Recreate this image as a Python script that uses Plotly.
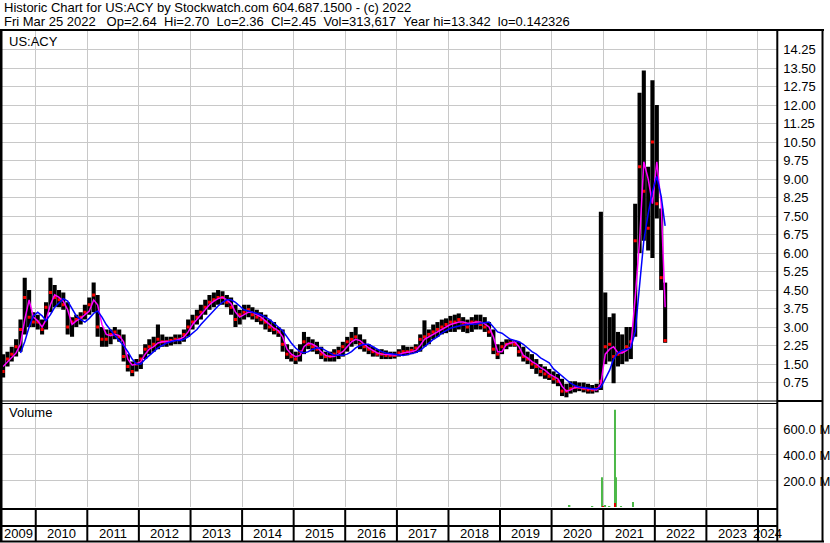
import plotly.graph_objects as go
from plotly.subplots import make_subplots
import pandas as pd

W, H = 830, 543
FONT = "Liberation Sans, Arial, sans-serif"
GRID = "#C8C8C8"

# Header text
title_line = "Historic Chart for US:ACY by Stockwatch.com 604.687.1500 - (c) 2022"
quote_items = ["Fri Mar 25 2022 ", "Op=2.64", "Hi=2.70", "Lo=2.36", "Cl=2.45",
               "Vol=313,617", "Year hi=13.342", "lo=0.142326"]

# Monthly bars May 2009 .. Mar 2022
hi = [
    1.9, 2.0, 2.2, 2.5, 3.3, 5.0, 4.5, 3.6,                          # 2009
    3.5, 3.3, 4.0, 5.0, 4.7, 4.5, 4.4, 4.0, 3.4, 3.5, 3.6, 3.9,      # 2010
    4.2, 4.8, 4.3, 3.0, 2.9, 2.9, 3.0, 2.9, 2.7, 1.9, 1.6, 1.7,      # 2011
    1.9, 2.3, 2.5, 2.6, 3.1, 2.7, 2.6, 2.6, 2.7, 2.7, 2.9, 3.3,      # 2012
    3.5, 3.7, 3.9, 4.1, 4.3, 4.4, 4.5, 4.45, 4.3, 4.2, 3.9, 3.7,     # 2013
    3.9, 3.9, 3.8, 3.7, 3.6, 3.5, 3.3, 3.2, 3.0, 2.9, 2.3, 2.1,      # 2014
    2.0, 2.3, 2.8, 2.6, 2.5, 2.4, 2.2, 2.0, 2.0, 2.1, 2.2, 2.4,      # 2015
    2.6, 2.8, 3.0, 2.7, 2.5, 2.3, 2.2, 2.1, 2.1, 2.05, 2.0, 2.0,     # 2016
    2.1, 2.26, 2.2, 2.2, 2.3, 2.7, 3.27, 2.9, 3.1, 3.2, 3.3, 3.35,   # 2017
    3.45, 3.5, 3.55, 3.4, 3.3, 3.4, 3.5, 3.5, 3.4, 3.2, 2.9, 2.3,    # 2018
    2.4, 2.5, 2.5, 2.45, 2.4, 2.2, 2.0, 1.9, 1.7, 1.5, 1.4, 1.3,     # 2019
    1.2, 1.1, 0.9, 0.7, 0.8, 0.8, 0.75, 0.75, 0.7, 0.65, 0.7, 7.67,  # 2020
    4.4, 3.4, 3.55, 2.8, 2.7, 3.0, 3.0, 8.0, 12.5, 13.4, 9.5, 13.0,  # 2021
    12.0, 7.8, 4.8,                                                  # 2022
]
lo = [
    0.95, 1.4, 1.6, 1.8, 2.0, 2.7, 3.0, 3.0,
    2.9, 2.7, 2.9, 3.6, 3.8, 3.8, 3.7, 2.7, 2.6, 3.0, 3.1, 3.3,
    3.5, 3.6, 2.6, 2.2, 2.2, 2.3, 2.5, 2.4, 1.6, 1.2, 1.0, 1.2,
    1.3, 1.7, 1.9, 2.0, 2.1, 2.2, 2.2, 2.25, 2.3, 2.3, 2.4, 2.6,
    2.9, 3.1, 3.3, 3.5, 3.7, 3.8, 3.9, 3.9, 3.8, 3.5, 3.0, 3.1,
    3.3, 3.4, 3.3, 3.2, 3.1, 2.9, 2.8, 2.7, 2.6, 2.0, 1.7, 1.6,
    1.5, 1.6, 1.9, 2.1, 2.0, 1.9, 1.7, 1.6, 1.6, 1.6, 1.7, 1.8,
    2.0, 2.2, 2.3, 2.1, 2.0, 1.9, 1.8, 1.8, 1.7, 1.7, 1.7, 1.72,
    1.8, 1.85, 1.85, 1.9, 1.95, 2.0, 2.2, 2.3, 2.5, 2.6, 2.7, 2.75,
    2.8, 2.8, 2.9, 2.8, 2.75, 2.8, 2.9, 2.9, 2.8, 2.6, 1.9, 1.7,
    1.9, 2.1, 2.2, 2.2, 1.8, 1.6, 1.5, 1.3, 1.1, 1.0, 0.9, 0.85,
    0.7, 0.6, 0.2, 0.15, 0.3, 0.35, 0.4, 0.35, 0.3, 0.3, 0.35, 0.45,
    1.5, 1.6, 0.72, 1.4, 1.5, 1.6, 1.7, 2.6, 6.0, 6.5, 6.1, 5.8,
    7.4, 4.5, 2.36,
]
close = [
    1.2, 1.7, 1.9, 2.2, 2.9, 4.2, 3.4, 3.2,
    3.2, 2.9, 3.8, 4.4, 4.2, 4.1, 3.9, 3.0, 3.2, 3.3, 3.4, 3.6,
    3.9, 4.3, 3.0, 2.5, 2.5, 2.7, 2.8, 2.6, 1.8, 1.4, 1.2, 1.5,
    1.7, 2.1, 2.2, 2.3, 2.5, 2.4, 2.4, 2.45, 2.5, 2.5, 2.7, 3.0,
    3.2, 3.4, 3.6, 3.8, 4.0, 4.1, 4.2, 4.2, 4.0, 3.8, 3.3, 3.5,
    3.6, 3.7, 3.5, 3.4, 3.3, 3.2, 3.0, 2.9, 2.8, 2.3, 1.9, 1.8,
    1.7, 2.0, 2.4, 2.3, 2.2, 2.1, 1.9, 1.8, 1.8, 1.9, 2.0, 2.2,
    2.4, 2.5, 2.6, 2.3, 2.2, 2.1, 2.0, 1.9, 1.9, 1.85, 1.85, 1.85,
    1.95, 2.0, 2.0, 2.05, 2.15, 2.5, 2.6, 2.7, 2.8, 2.9, 3.0, 3.1,
    3.2, 3.2, 3.3, 3.1, 3.0, 3.2, 3.2, 3.1, 3.0, 2.8, 2.1, 1.9,
    2.2, 2.3, 2.35, 2.3, 2.0, 1.8, 1.7, 1.5, 1.4, 1.2, 1.1, 1.0,
    0.9, 0.8, 0.4, 0.4, 0.5, 0.55, 0.55, 0.5, 0.45, 0.45, 0.5, 0.8,
    2.2, 2.3, 1.8, 1.9, 2.0, 2.2, 2.4, 6.5, 9.5, 8.5, 7.0, 10.5,
    8.0, 5.0, 2.45,
]
# moving averages (magenta = short, blue = long)
ma_short = [
    1.4, 1.6, 1.75, 1.95, 2.3, 3.3, 4.1, 3.4,
    3.25, 3.0, 3.3, 3.9, 4.3, 4.2, 4.05, 3.7, 3.1, 3.25, 3.35, 3.5,
    3.65, 4.1, 3.9, 3.1, 2.7, 2.65, 2.7, 2.65, 2.4, 1.7, 1.45, 1.5,
    1.6, 1.9, 2.1, 2.2, 2.35, 2.4, 2.4, 2.42, 2.45, 2.5, 2.6, 2.8,
    3.1, 3.3, 3.5, 3.7, 3.9, 4.05, 4.15, 4.2, 4.1, 3.95, 3.6, 3.4,
    3.5, 3.6, 3.6, 3.5, 3.4, 3.25, 3.1, 2.95, 2.85, 2.6, 2.1, 1.9,
    1.8, 1.85, 2.2, 2.35, 2.3, 2.2, 2.0, 1.85, 1.8, 1.8, 1.9, 2.0,
    2.2, 2.4, 2.5, 2.45, 2.3, 2.15, 2.05, 1.95, 1.9, 1.88, 1.86, 1.86,
    1.88, 1.95, 1.98, 2.0, 2.05, 2.25, 2.5, 2.6, 2.7, 2.8, 2.9, 3.0,
    3.1, 3.15, 3.2, 3.2, 3.15, 3.15, 3.2, 3.2, 3.13, 3.0, 2.6, 2.0,
    2.0, 2.3, 2.35, 2.4, 2.2, 1.85, 1.75, 1.6, 1.5, 1.35, 1.25, 1.1,
    1.0, 0.9, 0.6, 0.4, 0.45, 0.55, 0.55, 0.52, 0.48, 0.45, 0.45, 0.7,
    1.9, 2.1, 2.2, 1.95, 1.95, 2.05, 2.2, 4.2, 6.5, 9.7, 9.0, 8.0,
    9.7, 8.0, 3.8,
]
ma_long = [
    None, None, None, None, 1.95, 2.4, 3.0, 3.45,
    3.6, 3.45, 3.25, 3.5, 3.8, 4.0, 4.15, 4.05, 3.75, 3.45, 3.3, 3.2,
    3.35, 3.55, 3.65, 3.4, 3.1, 2.85, 2.65, 2.45, 2.25, 2.0, 1.7, 1.5,
    1.5, 1.7, 1.85, 2.0, 2.15, 2.25, 2.35, 2.4, 2.45, 2.45, 2.5, 2.6,
    2.75, 2.9, 3.1, 3.3, 3.5, 3.7, 3.85, 4.0, 4.1, 4.1, 4.0, 3.85,
    3.7, 3.65, 3.6, 3.55, 3.5, 3.4, 3.3, 3.15, 3.0, 2.85, 2.6, 2.35,
    2.15, 2.0, 1.95, 2.0, 2.1, 2.15, 2.15, 2.05, 1.95, 1.85, 1.85, 1.85,
    1.9, 2.0, 2.15, 2.25, 2.3, 2.3, 2.2, 2.1, 2.0, 1.95, 1.92, 1.9,
    1.85, 1.85, 1.88, 1.92, 1.96, 2.05, 2.2, 2.35, 2.5, 2.6, 2.75, 2.85,
    2.95, 3.0, 3.05, 3.08, 3.1, 3.1, 3.12, 3.15, 3.18, 3.2, 3.0, 2.8,
    2.75, 2.6, 2.5, 2.45, 2.4, 2.3, 2.15, 2.0, 1.9, 1.75, 1.65, 1.55,
    1.3, 1.15, 1.0, 0.85, 0.72, 0.62, 0.57, 0.55, 0.52, 0.5, 0.5, 0.55,
    0.9, 1.25, 1.7, 1.95, 2.05, 2.1, 2.15, 2.8, 4.6, 6.5, 7.6, 8.5,
    9.1, 8.3, 7.1,
]

# Volume (only the visible bars)
vol_up_dates = ["2020-05-07", "2020-10-16", "2020-12-23", "2021-01-15", "2021-02-14",
                "2021-03-26", "2021-04-01", "2021-05-08", "2021-07-31"]
vol_up = [8e6, 5e6, 229e6, 12e6, 5e6, 748e6, 229e6, 5e6, 38e6]
vol_down_dates = ["2021-01-01", "2021-03-28"]
vol_down = [3e6, 30e6]

price_ticks = [0.75, 1.50, 2.25, 3.00, 3.75, 4.50, 5.25, 6.00, 6.75, 7.50,
               8.25, 9.00, 9.75, 10.50, 11.25, 12.00, 12.75, 13.50, 14.25]
vol_ticks = [200e6, 400e6, 600e6]
vol_tick_text = ["200.0 M", "400.0 M", "600.0 M"]
years = list(range(2009, 2025))

X_START = pd.Timestamp("2009-05-07")
X_END = pd.Timestamp("2024-05-17")

months = pd.date_range("2009-05-01", "2022-03-01", freq="MS") + pd.Timedelta(days=14)
DAY_MS = 86400000


def py(p):
    """pixel row -> paper y"""
    return 1 - p / H


def px(p):
    return p / W


fig = make_subplots(rows=2, cols=1, shared_xaxes=True)

fig.add_trace(
    go.Bar(
        x=months,
        y=[h - l for h, l in zip(hi, lo)],
        base=lo,
        width=29 * DAY_MS,
        marker=dict(color="black", line=dict(width=0)),
    ),
    row=1, col=1,
)
fig.add_trace(
    go.Scatter(x=months, y=close, mode="markers",
               marker=dict(symbol="square", size=3, color="#FF0000", line=dict(width=0))),
    row=1, col=1,
)
fig.add_trace(
    go.Scatter(x=months, y=ma_short, mode="lines", line=dict(color="#FF00FF", width=1.5)),
    row=1, col=1,
)
fig.add_trace(
    go.Scatter(x=months, y=ma_long, mode="lines", line=dict(color="#0000FF", width=1.5)),
    row=1, col=1,
)

fig.add_trace(
    go.Bar(x=pd.to_datetime(vol_up_dates), y=vol_up, width=12 * DAY_MS,
           marker=dict(color="#4CB848", line=dict(width=0))),
    row=2, col=1,
)
fig.add_trace(
    go.Bar(x=pd.to_datetime(vol_down_dates), y=vol_down, width=8 * DAY_MS,
           marker=dict(color="#E00000", line=dict(width=0))),
    row=2, col=1,
)

year_starts = [pd.Timestamp(f"{y}-01-01") for y in years[1:]]

xaxis_style = dict(
    domain=[px(2), px(782)],
    type="date",
    range=[X_START, X_END],
    tickvals=year_starts,
    showticklabels=False,
    ticks="",
    showgrid=True,
    gridcolor=GRID,
    gridwidth=1,
    zeroline=False,
    showline=False,
)

fig.update_layout(
    width=W,
    height=H,
    margin=dict(l=0, r=0, t=0, b=0),
    showlegend=False,
    plot_bgcolor="white",
    paper_bgcolor="white",
    barmode="overlay",
    font=dict(family=FONT, size=13, color="black"),
    xaxis=dict(xaxis_style, anchor="y"),
    xaxis2=dict(xaxis_style, anchor="y2", matches="x"),
    yaxis=dict(
        domain=[py(401), py(31)],
        range=[0, 15],
        side="right",
        tickvals=price_ticks,
        tickformat=".2f",
        ticks="",
        ticklabelstandoff=5,
        showgrid=True,
        gridcolor=GRID,
        zeroline=False,
        showline=False,
    ),
    yaxis2=dict(
        domain=[py(507), py(404)],
        range=[0, 792e6],
        side="right",
        tickvals=vol_ticks,
        ticktext=vol_tick_text,
        ticks="",
        ticklabelstandoff=5,
        showgrid=True,
        gridcolor=GRID,
        zeroline=False,
        showline=False,
    ),
)

# Text labels
sp = "\u00a0\u00a0"
annotations = [
    dict(text=title_line, x=px(2), y=py(8), xanchor="left", yanchor="middle"),
    dict(text=sp.join(quote_items), x=px(2), y=py(21.5), xanchor="left", yanchor="middle"),
    dict(text="US:ACY", x=px(7), y=py(41.5), xanchor="left", yanchor="middle"),
    dict(text="Volume", x=px(7), y=py(413), xanchor="left", yanchor="middle"),
]
for a in annotations:
    a.update(xref="paper", yref="paper", showarrow=False, font=dict(size=13, family=FONT))

# Year labels centred in the visible part of each year
for y in years:
    start = max(pd.Timestamp(f"{y}-01-01"), X_START)
    end = min(pd.Timestamp(f"{y + 1}-01-01"), X_END)
    mid = start + (end - start) / 2
    annotations.append(dict(text=str(y), x=mid, xref="x", y=py(533), yref="paper",
                            showarrow=False, xanchor="center", yanchor="middle",
                            font=dict(size=13, family=FONT)))
fig.update_layout(annotations=annotations)

# Frame lines
shapes = []


def hline(p, x0, x1, w=2):
    shapes.append(dict(type="line", xref="paper", yref="paper", x0=px(x0), x1=px(x1),
                       y0=py(p), y1=py(p), line=dict(color="black", width=w)))


def vline(p, y0, y1, w=2):
    shapes.append(dict(type="line", xref="paper", yref="paper", x0=px(p), x1=px(p),
                       y0=py(y0), y1=py(y1), line=dict(color="black", width=w)))


hline(30, 0, 829)
hline(401, 0, 782, 1)
hline(403.5, 0, 782, 1)
hline(401, 782, 828, 2)
hline(509, 0, 782)
hline(526, 0, 782)
hline(541.5, 0, 829)
vline(1, 29, 542, 3)
vline(782, 29, 542)
vline(827.5, 29, 542)

# year separators in the date strip
for ys in year_starts:
    shapes.append(dict(type="line", xref="x", yref="paper", x0=ys, x1=ys,
                       y0=py(509), y1=py(541), line=dict(color="black", width=2)))

fig.update_layout(shapes=shapes)

# no page margin so the figure sits at the window's top-left corner
fig.write_html(
    "out.html",
    config={"displayModeBar": False},
    post_script="document.body.style.margin='0';document.body.style.overflow='hidden';",
)
